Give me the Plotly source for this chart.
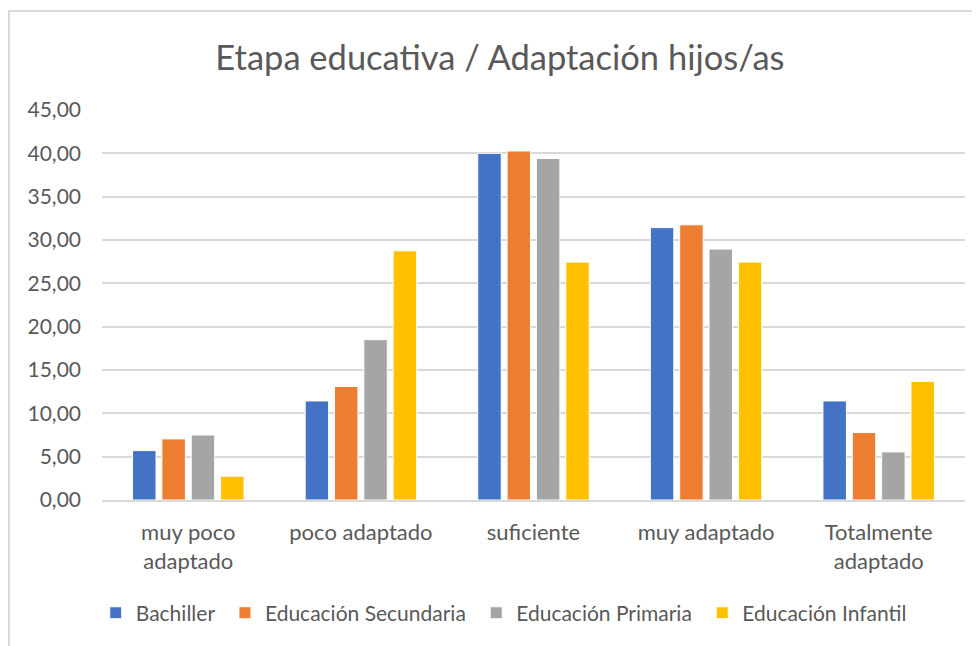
import plotly.graph_objects as go

categorias = ["muy poco<br>adaptado", "poco adaptado", "suficiente", "muy adaptado", "Totalmente<br>adaptado"]
bachiller = [5.70, 11.43, 40.00, 31.43, 11.43]
secundaria = [7.05, 13.10, 40.27, 31.75, 7.78]
primaria = [7.50, 18.50, 39.40, 28.95, 5.55]
infantil = [2.75, 28.75, 27.45, 27.45, 13.70]
ticks = [0, 5, 10, 15, 20, 25, 30, 35, 40, 45]

series = [
    ("Bachiller", bachiller, "#4472C4"),
    ("Educación Secundaria", secundaria, "#ED7D31"),
    ("Educación Primaria", primaria, "#A5A5A5"),
    ("Educación Infantil", infantil, "#FFC000"),
]

fig = go.Figure()
for nombre, valores, color in series:
    # nbsp padding to widen the gap between legend entries
    fig.add_trace(go.Bar(x=categorias, y=valores, name=nombre + "\u00a0",
                         marker_color=color,
                         marker_line=dict(color="white", width=1)))

# the page body adds ~8px offset, so positions are shifted up/left
fig.update_layout(
    width=980, height=646,
    margin=dict(l=94, r=23, t=102, b=154),
    plot_bgcolor="white", paper_bgcolor="white",
    font=dict(family="Lato", size=21, color="#595959"),
    separators=",.",
    barmode="group", bargap=0.32, bargroupgap=0.2,
    title=dict(text="Etapa educativa / Adaptación hijos/as",
               font=dict(size=34.5, color="#595959"),
               x=0.502, xanchor="center", y=1 - 50 / 646, yanchor="middle"),
    legend=dict(orientation="h", x=0.469, xanchor="center",
                y=-0.29, yanchor="middle", font=dict(size=21),
                itemwidth=30, traceorder="normal"),
)
fig.update_yaxes(range=[0, 45], tickvals=ticks, tickformat=".2f",
                 showgrid=True, gridcolor="#d9d9d9", gridwidth=1.5,
                 zeroline=False, showline=False, ticks="", ticklabelstandoff=20,
                 tickfont=dict(size=21))
fig.update_xaxes(showline=True, linecolor="#d9d9d9", linewidth=1.5,
                 ticks="", tickfont=dict(size=22), ticklabelstandoff=12)

fig.add_shape(type="rect", xref="paper", yref="paper",
              x0=(1 - 94) / 863, x1=1.05, y0=-0.45, y1=1 + (102 - 3) / 390,
              line=dict(color="#d9d9d9", width=2), layer="below")

fig.write_html("out.html")
